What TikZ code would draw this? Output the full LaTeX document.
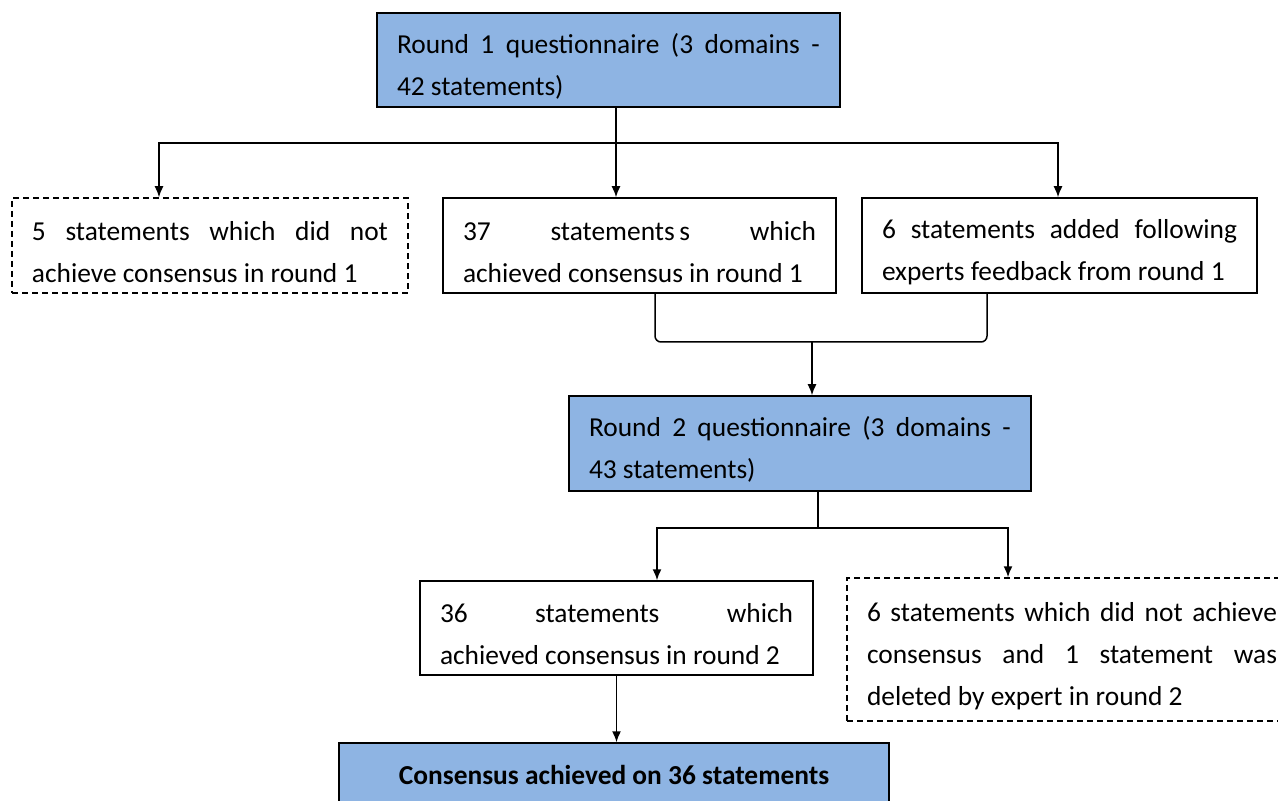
\documentclass[tikz,border=0pt]{standalone}
\usepackage{fontspec}
\setmainfont{Carlito}
\usetikzlibrary{positioning,arrows.meta}
\definecolor{boxblue}{RGB}{142,180,227}
\newcommand{\topgap}{\rule{0pt}{16pt}}
\tikzset{
  box/.style={draw, line width=0.75pt, inner xsep=10pt, inner ysep=4pt, align=justify,
    font=\fontsize{13.7}{21}\selectfont},
  dashbox/.style={box, dash pattern=on 3pt off 2pt},
  bluebox/.style={box, fill=boxblue},
  link/.style={line width=0.75pt},
  flow/.style={link, -{Latex[length=5.5pt,width=4.5pt]}}
}

\begin{document}
\begin{tikzpicture}[x=0.5pt,y=-0.5pt]
                \useasboundingbox (0,0) rectangle (1278,801);
                \node[bluebox, text width=211.5pt, minimum height=47pt] (r1) at (608.5,60) {\topgap Round 1 questionnaire (3 domains -\linebreak 42 statements)};
                \node[dashbox, text width=178pt, minimum height=47.5pt] (no1) at (210,245.5) {\topgap 5 statements which did not\linebreak achieve consensus in round 1};
                \node[box, text width=176.5pt, minimum height=47.5pt] (yes1) at (639.5,245.5) {\topgap 37 statements\,s which\linebreak achieved consensus in round 1};
                \node[box, text width=177.5pt, minimum height=47.5pt] (add1) at (1059.5,245.5) {\topgap 6 statements added following\linebreak experts feedback from round 1};
                \node[bluebox, text width=211pt, minimum height=47.5pt] (r2) at (800,443.5) {\topgap Round 2 questionnaire (3 domains -\linebreak 43 statements)};
                \node[box, text width=176.5pt, minimum height=47pt] (yes2) at (616.5,628) {\topgap 36 statements which\linebreak achieved consensus in round 2};
                \node[dashbox, text width=205pt, minimum height=71.5pt] (no2) at (1072,649.5) {\topgap 6 statements which did not achieve\linebreak consensus and 1 statement was\linebreak deleted by expert in round 2};
                \node[bluebox, align=center, minimum width=275pt, minimum height=32pt, font=\fontsize{13.7}{21}\selectfont\bfseries] (final) at (614,775) {Consensus achieved on 36 statements};
                \coordinate (split1) at (616,143);
                \coordinate (left1) at (159,143);
                \coordinate (right1) at (1058,143);
                \draw[link] (r1.south -| split1) -- (split1);
                \draw[flow] (split1) -- (left1) -- (no1.north -| left1);
                \draw[flow] (split1) -- (right1) -- (add1.north -| right1);
                \draw[flow] (split1) -- (yes1.north -| split1);
                \coordinate (mleft) at (655,342);
                \coordinate (mright) at (987,342);
                \coordinate (merge1) at (812,342);
                \draw[link, rounded corners=3pt] (yes1.south -| mleft) -- (mleft) -- (mright) -- (add1.south -| mright);
                \draw[flow] (merge1) -- (r2.north -| merge1);
                \coordinate (split2) at (818,528);
                \coordinate (left2) at (657,528);
                \coordinate (right2) at (1008,528);
                \draw[link] (r2.south -| split2) -- (split2);
                \draw[flow] (split2) -- (left2) -- (yes2.north -| left2);
                \draw[flow] (split2) -- (right2) -- (no2.north -| right2);
                \draw[flow] (yes2.south) -- (yes2.south |- final.north);
\end{tikzpicture}
\end{document}
